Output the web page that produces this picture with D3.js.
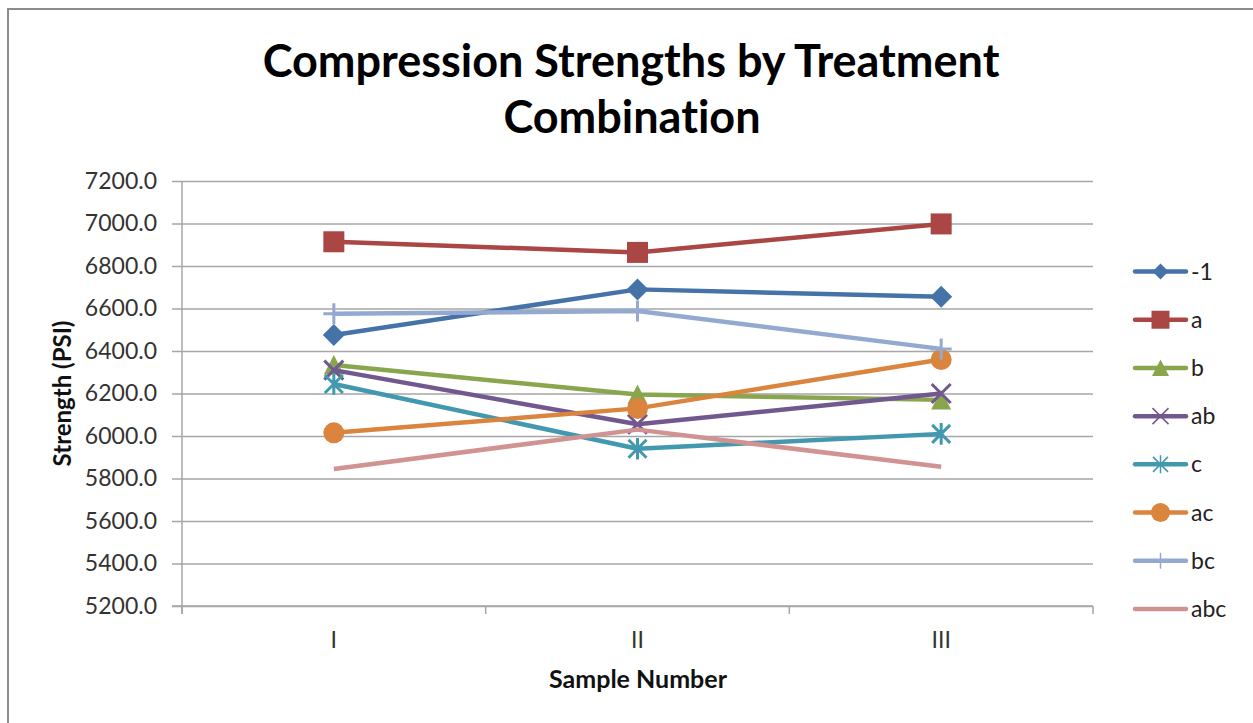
<!DOCTYPE html>
<html>
<head>
<meta charset="utf-8">
<script src="https://cdn.jsdelivr.net/npm/d3@7"></script>
<style>
  html, body { margin: 0; padding: 0; background: #fff; }
  svg { display: block; font-family: Lato, "Open Sans", sans-serif; font-variant-ligatures: none; }
  .grid line { stroke: #a6a6a6; stroke-width: 1.5; }
  .grid path { display: none; }
  .axis path, .axis line { stroke: #a6a6a6; stroke-width: 1.5; }
  .axis text { fill: #333; font-size: 23px; font-family: Lato, "Open Sans", sans-serif; }
</style>
</head>
<body>
<svg id="chart" width="1253" height="723"></svg>
<script>
const W = 1253, H = 723;
const PLOT = { left: 182, right: 1093, top: 181, bottom: 606 };

const samples = ["I", "II", "III"];
const seriesNames = ["-1", "a", "b", "ab", "c", "ac", "bc", "abc"];
const seriesColors = ["#4572A7", "#AA4643", "#89A54E", "#71588F", "#4198AF", "#DB843D", "#93A9CF", "#D19392"];
const seriesMarkers = ["diamond", "square", "triangle", "x", "asterisk", "circle", "plus", "none"];

const valsNeg1 = [6475, 6690, 6655];
const valsA    = [6914, 6864, 6998];
const valsB    = [6334, 6195, 6170];
const valsAB   = [6310, 6055, 6200];
const valsC    = [6245, 5940, 6010];
const valsAC   = [6015, 6130, 6360];
const valsBC   = [6575, 6588, 6410];
const valsABC  = [5845, 6030, 5855];
const seriesValues = [valsNeg1, valsA, valsB, valsAB, valsC, valsAC, valsBC, valsABC];

const yTicks = [5200, 5400, 5600, 5800, 6000, 6200, 6400, 6600, 6800, 7000, 7200];

const svg = d3.select("#chart");

// outer chart border (runs off right/bottom edge in the reference)
svg.append("rect").attr("x", 8).attr("y", 9).attr("width", W + 20).attr("height", H + 20)
  .attr("fill", "none").attr("stroke", "#8c8c8c").attr("stroke-width", 2);

const x = d3.scaleBand().domain(samples).range([PLOT.left, PLOT.right]);
const xc = d => x(d) + x.bandwidth() / 2;
const y = d3.scaleLinear().domain([5200, 7200]).range([PLOT.bottom, PLOT.top]);

// gridlines
svg.append("g").attr("class", "grid").attr("transform", `translate(${PLOT.left},0)`)
  .call(d3.axisLeft(y).tickValues(yTicks).tickSize(-(PLOT.right - PLOT.left)).tickFormat(""));

// y axis
const yAxis = svg.append("g").attr("class", "axis").attr("transform", `translate(${PLOT.left},0)`)
  .call(d3.axisLeft(y).tickValues(yTicks).tickSize(10).tickPadding(15).tickFormat(d3.format(".1f")));
yAxis.select(".domain").attr("d", `M0,${PLOT.top}V${PLOT.bottom + 8}`);

// x axis: labels at category centres, tick marks between categories
const xAxis = svg.append("g").attr("class", "axis").attr("transform", `translate(0,${PLOT.bottom})`);
xAxis.append("line").attr("x1", PLOT.left - 10).attr("x2", PLOT.right).attr("y1", 0).attr("y2", 0);
xAxis.selectAll(".cat-tick").data(samples.concat([null])).join("line").attr("class", "cat-tick")
  .attr("x1", d => d === null ? PLOT.right : x(d)).attr("x2", d => d === null ? PLOT.right : x(d))
  .attr("y1", 0).attr("y2", 8);
xAxis.selectAll(".cat-label").data(samples).join("text").attr("class", "cat-label")
  .attr("x", xc).attr("y", 42).attr("text-anchor", "middle").text(d => d);

// marker shapes as custom symbol types, size = half-width
const markerTypes = {
  diamond:  { draw(c, r) { c.moveTo(0, -r); c.lineTo(r, 0); c.lineTo(0, r); c.lineTo(-r, 0); c.closePath(); } },
  square:   { draw(c, r) { c.rect(-r, -r, 2 * r, 2 * r); } },
  triangle: { draw(c, r) { c.moveTo(0, -r); c.lineTo(r, r * 0.95); c.lineTo(-r, r * 0.95); c.closePath(); } },
  circle:   { draw(c, r) { c.moveTo(r, 0); c.arc(0, 0, r, 0, 2 * Math.PI); } },
  x:        { draw(c, r) { c.moveTo(-r, -r); c.lineTo(r, r); c.moveTo(r, -r); c.lineTo(-r, r); } },
  asterisk: { draw(c, r) { c.moveTo(-r, -r); c.lineTo(r, r); c.moveTo(r, -r); c.lineTo(-r, r); c.moveTo(0, -r * 1.2); c.lineTo(0, r * 1.2); } },
  plus:     { draw(c, r) { c.moveTo(-r, 0); c.lineTo(r, 0); c.moveTo(0, -r); c.lineTo(0, r); } }
};
const plotMarkerSize = { diamond: 11, square: 10.5, triangle: 10, circle: 10.5, x: 9.5, asterisk: 9, plus: 10.5 };
const legendMarkerSize = { diamond: 8, square: 9, triangle: 8.5, circle: 9.5, x: 8, asterisk: 7.5, plus: 8 };
const strokeOnly = new Set(["x", "asterisk", "plus"]);

function drawMarker(g, type, color, cx, cy, r, sw) {
  if (type === "none") return;
  const p = g.append("path").attr("transform", `translate(${cx},${cy})`)
    .attr("d", d3.symbol().type(markerTypes[type]).size(r)());
  if (strokeOnly.has(type)) p.attr("fill", "none").attr("stroke", color).attr("stroke-width", sw);
  else p.attr("fill", color).attr("stroke", "none");
}

const line = d3.line().x(d => xc(d.s)).y(d => y(d.v));
const plotG = svg.append("g");
seriesNames.forEach((name, i) => {
  const pts = samples.map((s, j) => ({ s, v: seriesValues[i][j] }));
  const g = plotG.append("g");
  g.append("path").datum(pts).attr("d", line).attr("fill", "none")
    .attr("stroke", seriesColors[i]).attr("stroke-width", 4.5).attr("stroke-linejoin", "round");
  pts.forEach(p => drawMarker(g, seriesMarkers[i], seriesColors[i], xc(p.s), y(p.v),
    plotMarkerSize[seriesMarkers[i]], 3));
});

// legend
const legend = svg.append("g");
const legY = d3.scalePoint().domain(seriesNames).range([271.5, 609]);
seriesNames.forEach((name, i) => {
  const g = legend.append("g");
  const ly = legY(name);
  g.append("line").attr("x1", 1135).attr("x2", 1186).attr("y1", ly).attr("y2", ly)
    .attr("stroke", seriesColors[i]).attr("stroke-width", 4.5).attr("stroke-linecap", "round");
  drawMarker(g, seriesMarkers[i], seriesColors[i], 1160.5, ly, legendMarkerSize[seriesMarkers[i]], 1.5);
  g.append("text").attr("x", 1191).attr("y", ly + 8).attr("fill", "#222")
    .style("font-size", "23px").text(name);
});

// titles
svg.append("text").attr("x", 631).attr("y", 77).attr("text-anchor", "middle")
  .style("font-size", "45px").style("font-weight", "bold").attr("fill", "#000")
  .text("Compression Strengths by Treatment");
svg.append("text").attr("x", 632).attr("y", 133).attr("text-anchor", "middle")
  .style("font-size", "45px").style("font-weight", "bold").attr("fill", "#000")
  .text("Combination");

svg.append("text").attr("transform", `translate(71,${(PLOT.top + PLOT.bottom) / 2}) rotate(-90)`)
  .attr("text-anchor", "middle").style("font-size", "24px").style("font-weight", "bold")
  .attr("fill", "#111").text("Strength (PSI)");
svg.append("text").attr("x", 638).attr("y", 688).attr("text-anchor", "middle")
  .style("font-size", "25px").style("font-weight", "bold").attr("fill", "#111")
  .text("Sample Number");
</script>
</body>
</html>
